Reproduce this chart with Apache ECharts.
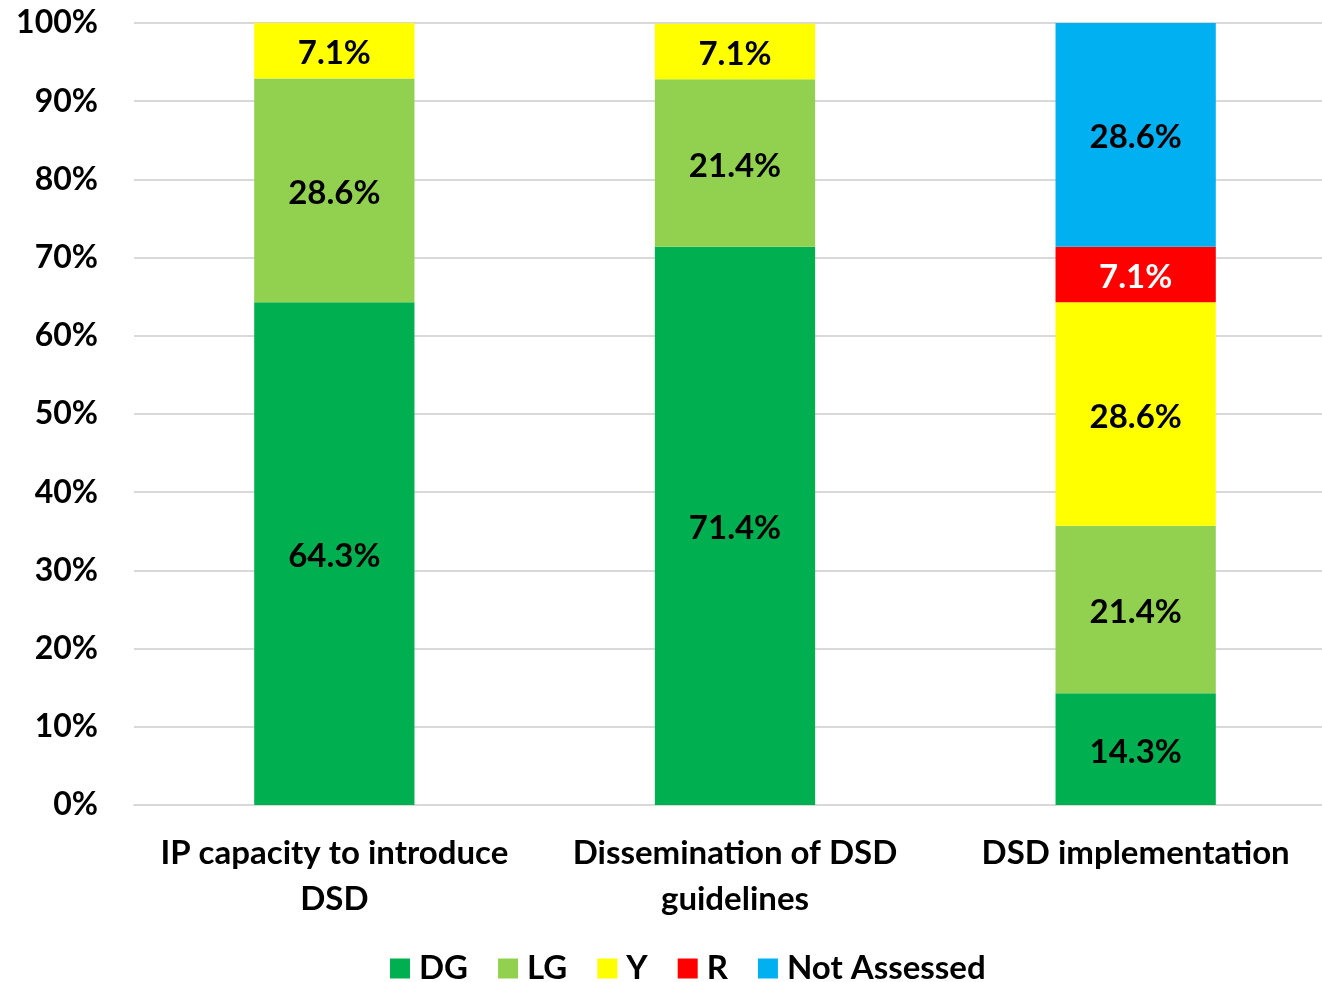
<!DOCTYPE html>
<html>
<head>
<meta charset="utf-8">
<script src="https://cdn.jsdelivr.net/npm/echarts@6/dist/echarts.min.js"></script>
<style>
html,body{margin:0;padding:0;background:#fff;overflow:hidden;width:1322px;height:982px;}
/* the plot runs a little past the right edge of the page */
#chart{width:1336px;height:982px;}
</style>
</head>
<body>
<div id="chart"></div>
<script>
// Categories and stacked shares (percent)
const categories = ['IP capacity to introduce\nDSD', 'Dissemination of DSD\nguidelines', 'DSD implementation'];
const seriesNames = ['DG', 'LG', 'Y', 'R', 'Not Assessed'];
const dgValues = [64.3, 71.4, 14.3];
const lgValues = [28.6, 21.4, 21.4];
const yValues = [7.1, 7.1, 28.6];
const rValues = [null, null, 7.1];
const naValues = [null, null, 28.6];
const colors = ['#00B050', '#92D050', '#FFFF00', '#FF0000', '#00B0F0'];
const labelColors = ['#000', '#000', '#000', '#fff', '#000'];

const FONT = 'Lato, "Open Sans", sans-serif';
const allValues = [dgValues, lgValues, yValues, rValues, naValues];

const chart = echarts.init(document.getElementById('chart'), null, {renderer: 'canvas'});
chart.setOption({
  animation: false,
  grid: {left: 134, right: 0, top: 23, bottom: 177},
  legend: {
    data: seriesNames,
    bottom: -8,
    left: 385,
    itemWidth: 20,
    itemHeight: 20,
    itemGap: 30,
    icon: 'rect',
    textStyle: {fontFamily: FONT, fontWeight: 'bold', fontSize: 33, color: '#000', padding: [0, 0, 0, 4]}
  },
  xAxis: {
    type: 'category',
    data: categories,
    axisTick: {show: false},
    axisLine: {lineStyle: {color: '#d9d9d9', width: 2}},
    axisLabel: {
      interval: 0,
      margin: 25,
      fontFamily: FONT,
      fontWeight: 'bold',
      fontSize: 33,
      lineHeight: 46,
      color: '#000'
    }
  },
  yAxis: {
    type: 'value',
    min: 0,
    max: 100,
    interval: 10,
    axisLine: {show: false},
    axisTick: {show: false},
    splitLine: {lineStyle: {color: '#d9d9d9', width: 2}},
    axisLabel: {
      margin: 36,
      fontFamily: FONT,
      fontWeight: 'bold',
      fontSize: 32,
      color: '#000',
      formatter: v => v + '%'
    }
  },
  series: seriesNames.map((name, i) => ({
    name: name,
    type: 'bar',
    stack: 'total',
    barWidth: '40%',
    data: allValues[i],
    itemStyle: {color: colors[i]},
    label: {
      show: true,
      position: 'inside',
      offset: [0, 3],
      fontFamily: FONT,
      fontWeight: 'bold',
      fontSize: 33,
      color: labelColors[i],
      formatter: p => p.value == null ? '' : p.value.toFixed(1) + '%'
    }
  }))
});
</script>
</body>
</html>
